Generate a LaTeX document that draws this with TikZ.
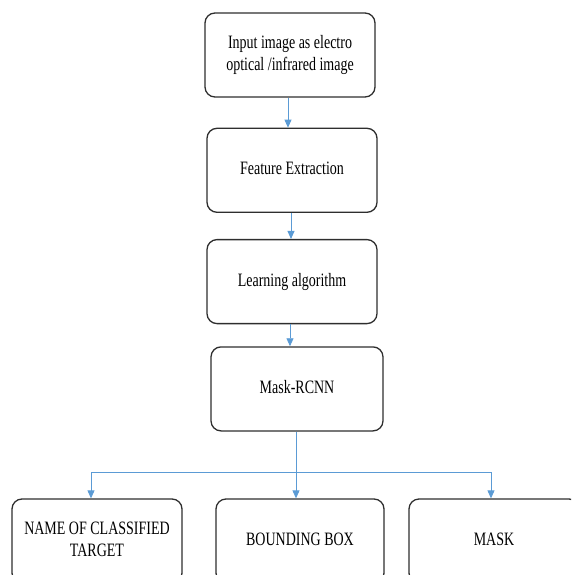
\documentclass[tikz,border=0pt]{standalone}
\usepackage{fontspec}
\setmainfont{Liberation Serif}
\usepackage{graphicx}
\usepackage{xcolor}
\usetikzlibrary{arrows.meta,positioning}

\definecolor{arrowblue}{HTML}{5B9BD5}
\newcommand{\tallfont}{\fontsize{14}{16.3}\selectfont}
\newcommand{\tallbox}[1]{\scalebox{1}[1.35]{\begin{tabular}{@{}c@{}}#1\end{tabular}}}

\begin{document}
\begin{tikzpicture}[
  x=1pt,y=-1pt,
  node distance=28pt,
  box/.style={draw=black!82,line width=1.3pt,rounded corners=10pt,align=center,
    minimum width=170pt,minimum height=84pt,inner sep=2pt,font=\tallfont},
  link/.style={draw=arrowblue,line width=0.9pt},
  arr/.style={link,-{Triangle[length=8pt,width=7pt]}}
]
\clip (0,0) rectangle (571,575);
\node[box] (input) at (290,55) {\tallbox{Input image as electro\\optical /infrared image}};
\node[box,below=30pt of input,xshift=2pt] (feature) {\tallbox{Feature Extraction}};
\node[box,below=26pt of feature] (learning) {\tallbox{Learning algorithm}};
\node[box,below=22pt of learning,xshift=5pt,minimum width=172pt] (mask) {\tallbox{Mask-RCNN}};
\node[box] (name) at (97,541) {\tallbox{NAME OF CLASSIFIED\\TARGET}};
\node[box,minimum width=168pt] (bbox) at (300,541) {\tallbox{BOUNDING BOX}};
\node[box] (maskout) at (494,541) {\tallbox{MASK}};
\coordinate (split) at (296,472);

\draw[arr] ([xshift=-2pt]input.south) -- ([xshift=-2pt]input.south |- feature.north);
\draw[arr] ([xshift=-1pt]feature.south) -- ([xshift=-1pt]feature.south |- learning.north);
\draw[arr] ([xshift=-2pt]learning.south) -- ([xshift=-2pt]learning.south |- mask.north);
\draw[link] (split |- mask.south) -- (split);
\draw[arr] (split) -| ([xshift=-6pt]name.north);
\draw[arr] (split) -- (split |- bbox.north);
\draw[arr] (split) -| ([xshift=-3pt]maskout.north);
\end{tikzpicture}
\end{document}
